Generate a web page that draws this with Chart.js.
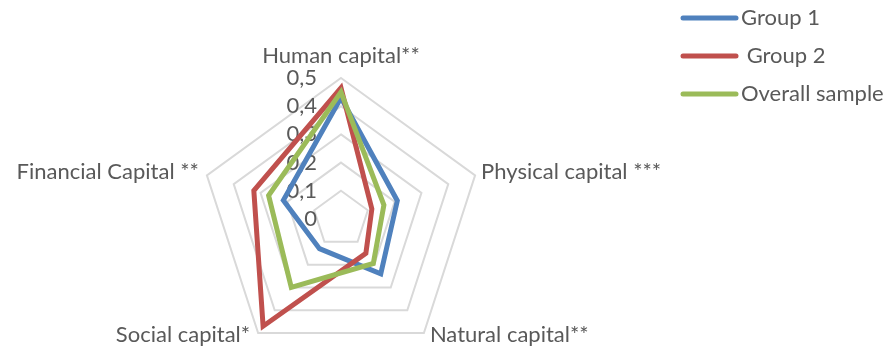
<!DOCTYPE html>
<html lang="en">
<head>
    <meta charset="UTF-8">
    <title>Capital radar</title>
    <script src="https://cdn.jsdelivr.net/npm/chart.js"></script>
    <style>
        body {
            margin: 0;
            padding: 0;
            background-color: #ffffff;
            overflow: hidden;
        }
        /* um pouco mais alto que a janela: o pentágono cabe, o círculo da escala não */
        #box {
            width: 889px;
            height: 360px;
            position: relative;
        }
    </style>
</head>
<body>
    <div id="box"><canvas id="radar"></canvas></div>

    <script>
        const categorias = ['Human capital**', 'Physical capital ***', 'Natural capital**', 'Social capital*', 'Financial Capital **'];
        const grupo1 = [0.43, 0.21, 0.24, 0.13, 0.215];
        const grupo2 = [0.465, 0.115, 0.15, 0.47, 0.325];
        const amostraTotal = [0.45, 0.16, 0.195, 0.30, 0.27];
        const nomesSeries = ['Group 1', ' Group 2', 'Overall sample'];
        const valoresTicks = [0, 0.1, 0.2, 0.3, 0.4, 0.5];
        const rotulosTicks = ['0', '0,1', '0,2', '0,3', '0,4', '0,5'];

        const fonte = '22px Lato';
        const corTexto = '#595959';

        // rótulos dos eixos, escala e legenda no estilo do Excel
        const textosExtras = {
            id: 'textosExtras',
            beforeDatasetsDraw(chart) {
                const ctx = chart.ctx;
                const scale = chart.scales.r;
                ctx.save();
                ctx.font = fonte;
                ctx.fillStyle = corTexto;
                ctx.textAlign = 'right';
                ctx.textBaseline = 'middle';
                valoresTicks.forEach((v, i) => {
                    const y = scale.yCenter - scale.getDistanceFromCenterForValue(v);
                    ctx.fillText(rotulosTicks[i], scale.xCenter - 24, y);
                });
                ctx.restore();
            },
            afterDraw(chart) {
                const ctx = chart.ctx;
                const scale = chart.scales.r;
                ctx.save();
                ctx.font = fonte;
                ctx.fillStyle = corTexto;

                categorias.forEach((nome, i) => {
                    const p = scale.getPointPosition(i, scale.drawingArea);
                    const dx = p.x - scale.xCenter;
                    const dy = p.y - scale.yCenter;
                    let x = p.x, y = p.y;
                    if (Math.abs(dx) < 1) {
                        ctx.textAlign = 'center';
                        ctx.textBaseline = 'alphabetic';
                        y = p.y - 15;
                    } else {
                        ctx.textAlign = dx > 0 ? 'left' : 'right';
                        ctx.textBaseline = 'middle';
                        x = p.x + (dx > 0 ? 6 : -8);
                        y = dy > 0 ? p.y + 2 : p.y - 4;
                    }
                    ctx.fillText(nome, x, y);
                });

                // legenda
                chart.data.datasets.forEach((ds, i) => {
                    const y = 18 + i * 38;
                    ctx.strokeStyle = ds.borderColor;
                    ctx.lineWidth = 5;
                    ctx.lineCap = 'round';
                    ctx.beginPath();
                    ctx.moveTo(683, y);
                    ctx.lineTo(736, y);
                    ctx.stroke();
                    ctx.textAlign = 'left';
                    ctx.textBaseline = 'middle';
                    ctx.fillText(ds.label, 741, y);
                });
                ctx.restore();
            }
        };

        const ctx = document.getElementById('radar').getContext('2d');
        new Chart(ctx, {
            type: 'radar',
            data: {
                labels: categorias,
                datasets: [
                    { label: nomesSeries[0], data: grupo1, borderColor: '#4F81BD', order: 2 },
                    { label: nomesSeries[1], data: grupo2, borderColor: '#C0504D', order: 1 },
                    { label: nomesSeries[2], data: amostraTotal, borderColor: '#9BBB59', order: 0 }
                ].map(d => Object.assign(d, {
                    borderWidth: 5,
                    fill: false,
                    backgroundColor: 'transparent',
                    pointRadius: 0,
                    pointHoverRadius: 0,
                    tension: 0
                }))
            },
            options: {
                responsive: true,
                maintainAspectRatio: false,
                animation: false,
                devicePixelRatio: 1,
                layout: { padding: { left: 200, right: 407, top: 78, bottom: 0 } },
                plugins: {
                    legend: { display: false },
                    tooltip: { enabled: false }
                },
                scales: {
                    r: {
                        min: 0,
                        max: 0.5,
                        ticks: { stepSize: 0.1, display: false },
                        grid: { color: '#d9d9d9', lineWidth: 2 },
                        angleLines: { display: false },
                        pointLabels: { display: false }
                    }
                }
            },
            plugins: [textosExtras]
        });
    </script>
</body>
</html>
